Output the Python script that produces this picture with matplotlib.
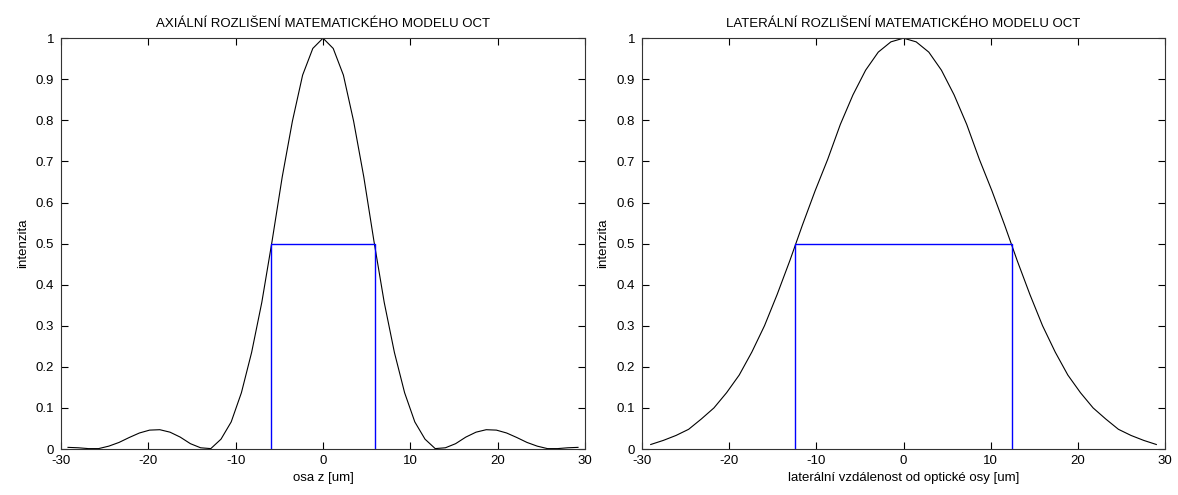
import numpy as np
from matplotlib import pyplot as plt

plt.rcParams['font.family'] = ['Liberation Sans', 'DejaVu Sans']
plt.rcParams['font.size'] = 9.5
plt.rcParams['axes.unicode_minus'] = False

# axial resolution (left)
z_axial = np.linspace(-29.2, 29.2, 51)
i_axial = [0.004, 0.003, 0.001, 0.001, 0.007, 0.016, 0.028, 0.039, 0.046, 0.047,
           0.041, 0.029, 0.013, 0.003, 0.001, 0.024, 0.066, 0.137, 0.235, 0.357,
           0.505, 0.662, 0.798, 0.910, 0.975, 1.000, 0.975, 0.910, 0.798, 0.662,
           0.505, 0.357, 0.235, 0.137, 0.066, 0.024, 0.001, 0.003, 0.013, 0.029,
           0.041, 0.047, 0.046, 0.039, 0.028, 0.016, 0.007, 0.001, 0.001, 0.003,
           0.004]
fwhm_axial = [-5.95, 5.95]

# lateral resolution (right)
x_lat = np.linspace(-29.0, 29.0, 41)
i_lat = [0.011, 0.021, 0.033, 0.048, 0.073, 0.100, 0.137, 0.180, 0.236, 0.300,
         0.376, 0.458, 0.545, 0.628, 0.705, 0.790, 0.862, 0.922, 0.966, 0.991,
         1.000, 0.991, 0.966, 0.922, 0.862, 0.790, 0.705, 0.628, 0.545, 0.458,
         0.376, 0.300, 0.236, 0.180, 0.137, 0.100, 0.073, 0.048, 0.033, 0.021,
         0.011]
fwhm_lat = [-12.5, 12.5]

xticks = [-30, -20, -10, 0, 10, 20, 30]
yticks = np.round(np.arange(0, 1.01, 0.1), 1)
ytick_labels = ['0', '0.1', '0.2', '0.3', '0.4', '0.5', '0.6', '0.7', '0.8', '0.9', '1']

fig = plt.figure(figsize=(11.78, 4.95), dpi=100)
ax1 = fig.add_axes([0.0518, 0.0929, 0.4448, 0.830])
ax2 = fig.add_axes([0.545, 0.0929, 0.444, 0.830])

panels = [
    (ax1, z_axial, i_axial, fwhm_axial,
     'AXIÁLNÍ ROZLIŠENÍ MATEMATICKÉHO MODELU OCT', 'osa z [um]'),
    (ax2, x_lat, i_lat, fwhm_lat,
     'LATERÁLNÍ ROZLIŠENÍ MATEMATICKÉHO MODELU OCT',
     'laterální vzdálenost od optické osy [um]'),
]

for ax, x, y, fw, title, xlabel in panels:
    ax.plot(x, y, color='black', lw=0.8)
    ax.plot([fw[0], fw[0], fw[1], fw[1]], [0, 0.5, 0.5, 0], color='#0000ff', lw=1.0)
    ax.set_xlim(-30, 30)
    ax.set_ylim(0, 1)
    ax.set_xticks(xticks)
    ax.set_yticks(yticks)
    ax.set_yticklabels(ytick_labels)
    ax.tick_params(direction='in', top=True, right=True, length=5, width=0.8,
                   labelsize=9.5)
    ax.tick_params(axis='y', pad=5)
    ax.tick_params(axis='x', pad=4)
    for s in ax.spines.values():
        s.set_linewidth(0.8)
        s.set_color('#333333')
    ax.set_title(title, fontsize=9.5, pad=8)
    ax.set_xlabel(xlabel, fontsize=9.5, labelpad=4)
    ax.set_ylabel('intenzita', fontsize=9.5, labelpad=5)

fig.savefig('out.png', dpi=100)
